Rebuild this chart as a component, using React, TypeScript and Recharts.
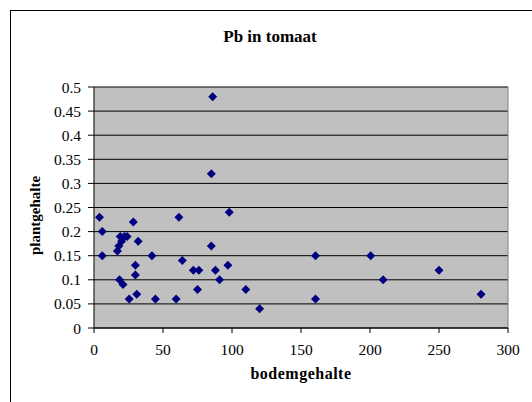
import {
  CartesianGrid,
  ReferenceLine,
  Scatter,
  ScatterChart,
  XAxis,
  YAxis,
} from "recharts";

// bodemgehalte (soil) vs plantgehalte (plant) for Pb in tomato
const bodem = [
  86, 85, 4, 6, 6, 28.5, 32, 19, 22, 24, 17, 18, 20, 30, 30, 18.5, 21, 25.5, 31,
  42, 44.5, 59.5, 61.5, 64, 72, 76, 75, 85, 88, 91, 98, 97, 110, 120, 160.5,
  160.5, 200.5, 209.5, 250, 280.5,
];
const plant = [
  0.48, 0.32, 0.23, 0.2, 0.15, 0.22, 0.18, 0.19, 0.19, 0.19, 0.16, 0.17, 0.18,
  0.13, 0.11, 0.1, 0.09, 0.06, 0.07, 0.15, 0.06, 0.06, 0.23, 0.14, 0.12, 0.12,
  0.08, 0.17, 0.12, 0.1, 0.24, 0.13, 0.08, 0.04, 0.15, 0.06, 0.15, 0.1, 0.12,
  0.07,
];

const xTicks = [0, 50, 100, 150, 200, 250, 300];
const yTicks = [0, 0.05, 0.1, 0.15, 0.2, 0.25, 0.3, 0.35, 0.4, 0.45, 0.5];

const points = bodem.map((x, i) => ({ x, y: plant[i] }));

const FONT = "Liberation Serif, DejaVu Serif, serif";

function Diamond(props: any) {
  const { cx, cy } = props;
  const r = 4.5;
  return (
    <polygon
      points={`${cx},${cy - r} ${cx + r},${cy} ${cx},${cy + r} ${cx - r},${cy}`}
      fill="#000080"
    />
  );
}

export default function App() {
  return (
    <div
      style={{
        position: "absolute",
        left: 0,
        top: 0,
        width: 532,
        height: 402,
        overflow: "hidden",
        background: "#fff",
        fontFamily: FONT,
      }}
    >
      <div
        style={{
          position: "absolute",
          left: 10,
          top: 10,
          width: 560,
          height: 440,
          border: "1px solid #000",
        }}
      />
      <div
        style={{
          position: "absolute",
          left: 10,
          width: 520,
          top: 27,
          textAlign: "center",
          fontWeight: "bold",
          fontSize: 17,
        }}
      >
        Pb in tomaat
      </div>
      <div style={{ position: "absolute", left: 0, top: 0 }}>
        <ScatterChart
          width={532}
          height={402}
          margin={{ top: 87, right: 24, bottom: 0, left: 0 }}
          style={{ fontFamily: FONT }}
        >
          <CartesianGrid
            vertical={false}
            fill="#C0C0C0"
            stroke="#000"
            strokeOpacity={1}
          />
          <XAxis
            type="number"
            dataKey="x"
            domain={[0, 300]}
            ticks={xTicks}
            height={74}
            tickSize={5}
            tickMargin={11}
            stroke="#000"
            tick={{ fill: "#000", fontSize: 15.5, fontFamily: FONT }}
            label={(p: any) => (
              <text
                x={p.viewBox.x + p.viewBox.width / 2}
                y={p.viewBox.y + 51}
                textAnchor="middle"
                fontWeight="bold"
                fontSize={16}
                fontFamily={FONT}
                letterSpacing={0.5}
                fill="#000"
              >
                bodemgehalte
              </text>
            )}
          />
          <YAxis
            type="number"
            dataKey="y"
            domain={[0, 0.5]}
            ticks={yTicks}
            width={94}
            tickSize={6}
            tickMargin={7}
            stroke="#000"
            tick={{ fill: "#000", fontSize: 15.5, fontFamily: FONT }}
            tickFormatter={(v: number) => String(v)}
            label={(p: any) => {
              const cy = p.viewBox.y + p.viewBox.height / 2 + 8;
              return (
                <text
                  x={40}
                  y={cy}
                  transform={`rotate(-90, 40, ${cy})`}
                  textAnchor="middle"
                  fontWeight="bold"
                  fontSize={15}
                  fontFamily={FONT}
                  fill="#000"
                >
                  plantgehalte
                </text>
              );
            }}
          />
          <ReferenceLine x={300} stroke="#808080" />
          <Scatter
            data={points}
            shape={<Diamond />}
            isAnimationActive={false}
          />
        </ScatterChart>
      </div>
    </div>
  );
}
